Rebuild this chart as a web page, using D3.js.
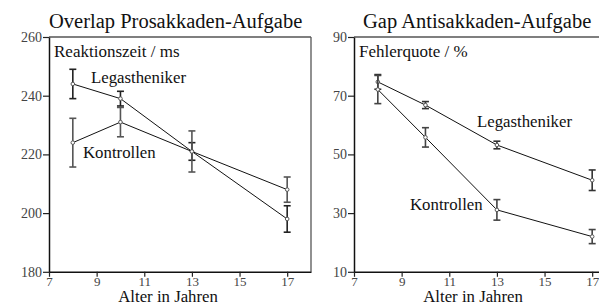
<!DOCTYPE html>
<html><head><meta charset="utf-8">
<script src="https://cdn.jsdelivr.net/npm/d3@7"></script>
<style>body{margin:0;background:#fff}svg{display:block}</style>
</head><body><svg id="c" width="599" height="305"></svg>
<script>
const ages = [8, 10, 13, 17];
const xTicks = [7, 9, 11, 13, 15, 17];
// Left panel: Overlap Prosakkaden-Aufgabe (Reaktionszeit / ms)
const leftLeg = [244, 239, 221, 198];
const leftLegErr = [5, 2.5, 3, 4.5];
const leftKon = [224, 231, 221, 208];
const leftKonErr = [8.3, 5, 7, 4.3];
const leftYTicks = [180, 200, 220, 240, 260];
// Right panel: Gap Antisakkaden-Aufgabe (Fehlerquote / %)
const rightLeg = [74.7, 66.8, 53.2, 41.2];
const rightLegErr = [2.5, 1.2, 1.3, 3.5];
const rightKon = [72.1, 55.8, 31.1, 22];
const rightKonErr = [4.8, 3.3, 3.5, 2.4];
const rightYTicks = [10, 30, 50, 70, 90];

const FONT = "'Liberation Serif'";
const svg = d3.select("#c");

function txt(g, t, x, y, size, anchor) {
  return g.append("text").attr("x", x).attr("y", y).attr("font-size", size)
    .attr("text-anchor", anchor || "start").attr("fill", "#111")
    .style("font-family", FONT).text(t);
}

function panel(o){
  const x = d3.scaleLinear().domain([7, 18]).range([o.x0, o.x0 + 262]);
  const y = d3.scaleLinear().domain(o.yDomain).range([271.8, 37]);
  const g = svg.append("g");
  g.append("line").attr("x1", x(7)).attr("x2", x(18)).attr("y1", y(o.yDomain[1])).attr("y2", y(o.yDomain[1]))
    .attr("stroke", "#555").attr("stroke-width", 1.3);
  g.append("line").attr("x1", x(18)).attr("x2", x(18)).attr("y1", y(o.yDomain[1])).attr("y2", y(o.yDomain[0]))
    .attr("stroke", "#555").attr("stroke-width", 1.3);
  const ya = g.append("g").attr("transform", `translate(${x(7)},0)`)
    .call(d3.axisLeft(y).tickValues(o.yTicks).tickSize(6).tickSizeOuter(0).tickPadding(1));
  ya.attr("font-family", null);
  ya.selectAll("text").attr("font-size", 14).attr("fill", "#444").style("font-family", FONT);
  const xa = g.append("g").attr("transform", `translate(0,${y(o.yDomain[0])})`)
    .call(d3.axisBottom(x).tickValues(xTicks).tickSize(5).tickSizeOuter(0).tickPadding(0));
  xa.attr("font-family", null);
  xa.selectAll("text").attr("font-size", 13).attr("fill", "#444").style("font-family", FONT);
  [ya, xa].forEach(a => { a.select(".domain").attr("stroke", "#111").attr("stroke-width", 1.5); a.selectAll(".tick line").attr("stroke", "#222").attr("stroke-width", 1.2); });

  txt(g, o.title, o.titleX, 28, 20.5);
  txt(g, o.ylabel, x(7) + 5, 57, 17);
  txt(g, "Alter in Jahren", x(12), 302, 16.8, "middle");

  const line = d3.line().x((d, i) => x(ages[i])).y(d => y(d));
  o.series.forEach(s => {
    g.append("path").attr("d", line(s.v)).attr("fill", "none").attr("stroke", "#111").attr("stroke-width", 1);
    s.v.forEach((v, i) => {
      const cx = x(ages[i]);
      const eg = g.append("g").attr("stroke", s.ec).attr("stroke-width", 1.6);
      eg.append("line").attr("x1", cx).attr("x2", cx).attr("y1", y(v + s.e[i])).attr("y2", y(v - s.e[i]));
      eg.append("line").attr("x1", cx - 3.5).attr("x2", cx + 3.5).attr("y1", y(v + s.e[i])).attr("y2", y(v + s.e[i]));
      eg.append("line").attr("x1", cx - 3.5).attr("x2", cx + 3.5).attr("y1", y(v - s.e[i])).attr("y2", y(v - s.e[i]));
      g.append("circle").attr("cx", cx).attr("cy", y(v)).attr("r", 1.8).attr("fill", "#fff").attr("stroke", "#555").attr("stroke-width", 1);
    });
  });
  o.labels.forEach(l => txt(g, l.t, l.x, l.y, 16.8));
}

panel({x0: 49, yDomain: [180, 260], yTicks: leftYTicks, title: "Overlap Prosakkaden-Aufgabe", titleX: 49,
  ylabel: "Reaktionszeit / ms",
  series: [{v: leftLeg, e: leftLegErr, ec: "#222"}, {v: leftKon, e: leftKonErr, ec: "#555"}],
  labels: [{t: "Legastheniker", x: 91, y: 83}, {t: "Kontrollen", x: 83, y: 158}]});
panel({x0: 354, yDomain: [10, 90], yTicks: rightYTicks, title: "Gap Antisakkaden-Aufgabe", titleX: 363,
  ylabel: "Fehlerquote / %",
  series: [{v: rightLeg, e: rightLegErr, ec: "#333"}, {v: rightKon, e: rightKonErr, ec: "#444"}],
  labels: [{t: "Legastheniker", x: 477, y: 127}, {t: "Kontrollen", x: 410, y: 210}]});
</script></body></html>
